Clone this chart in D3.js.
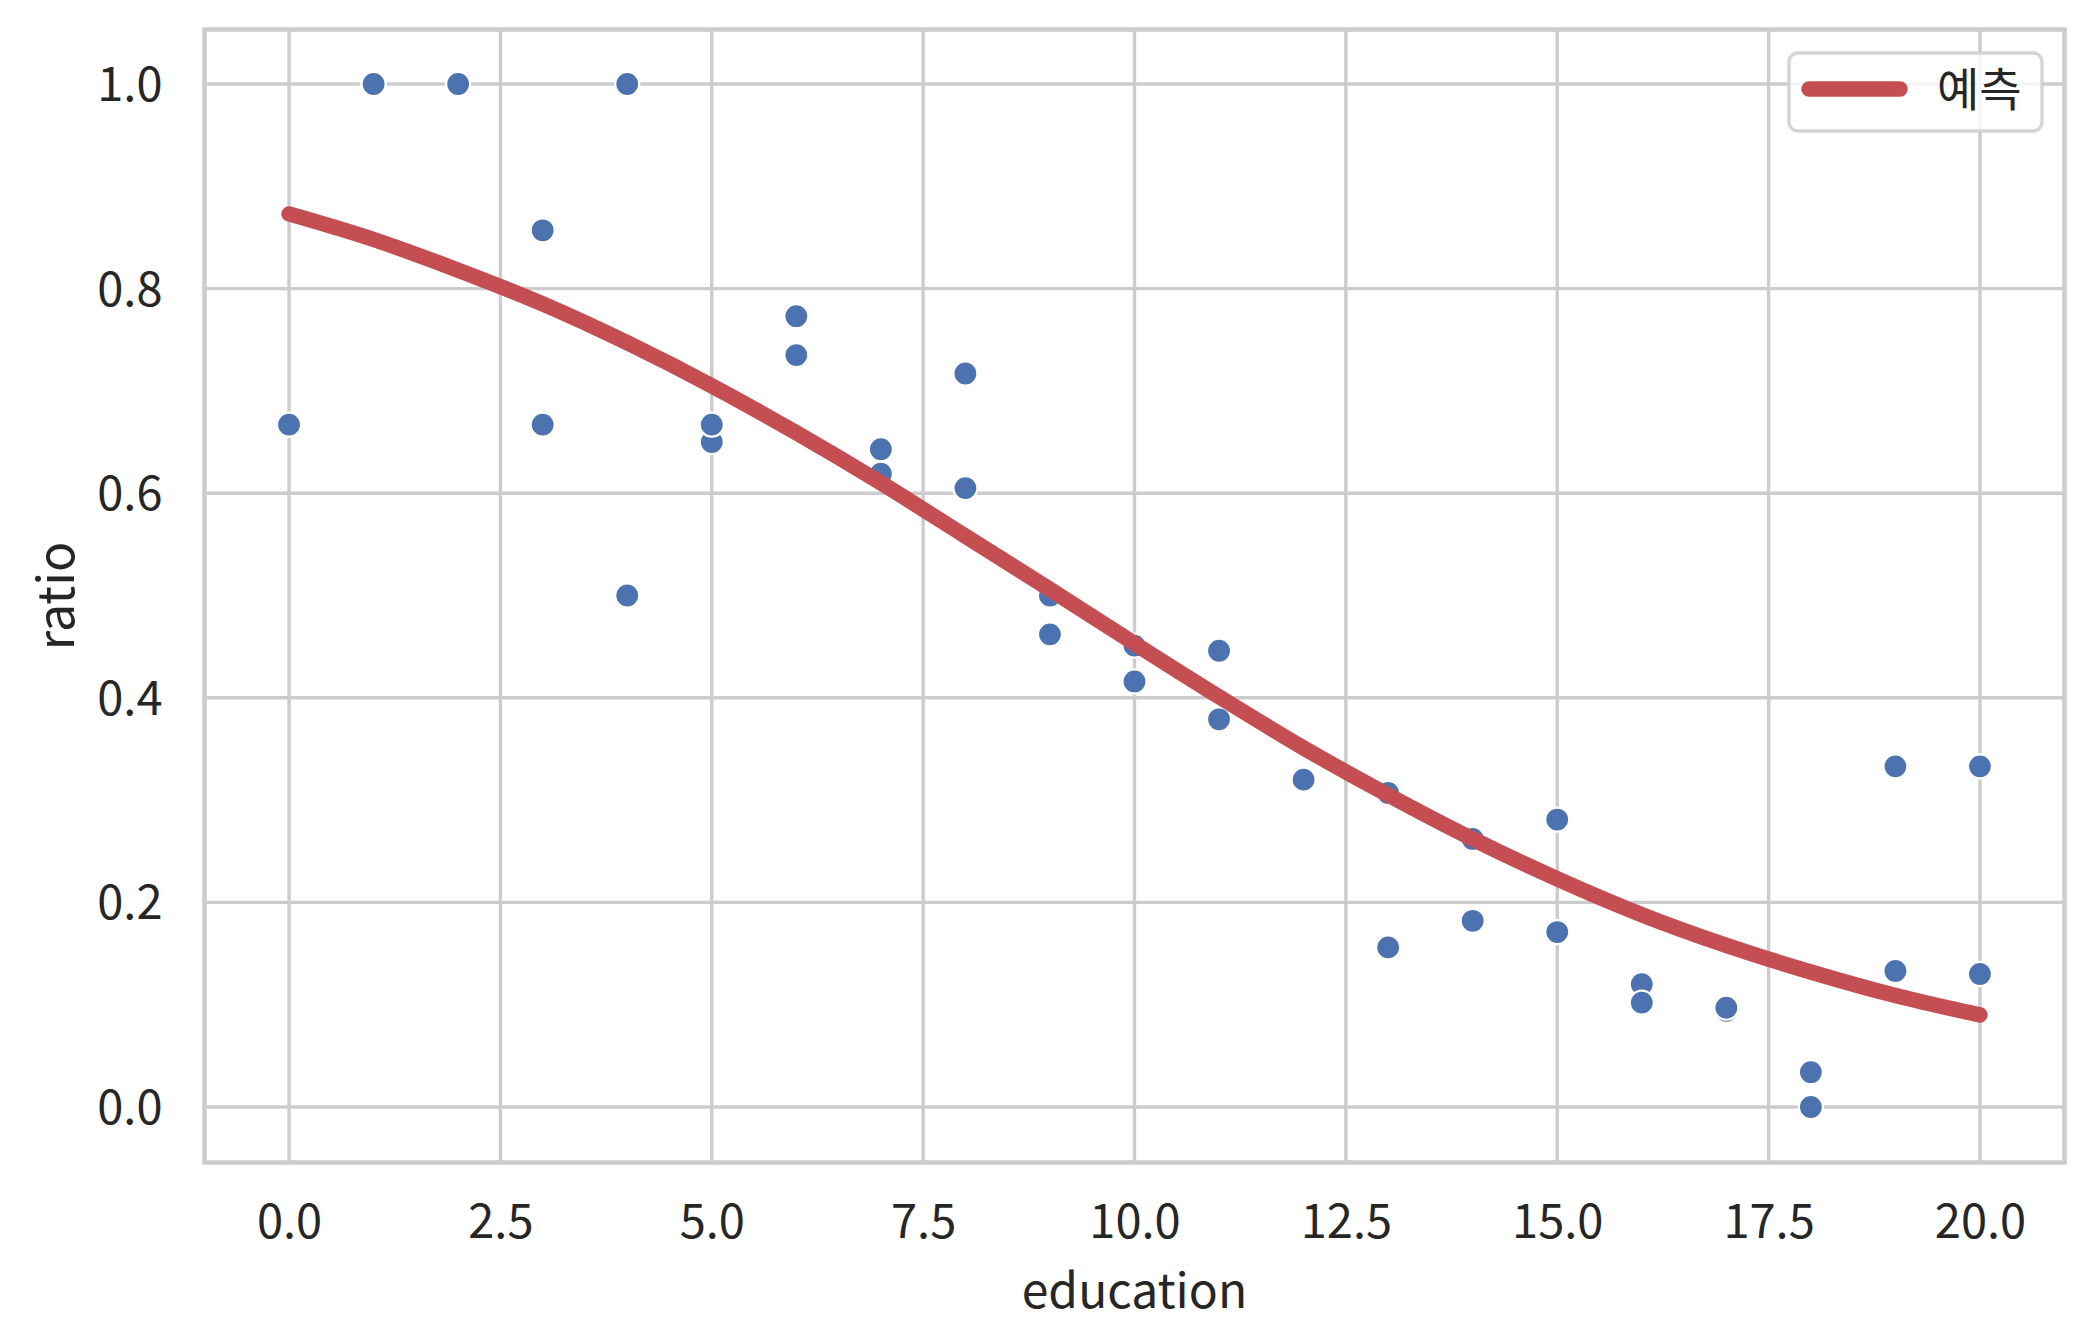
<!DOCTYPE html>
<html>
<head>
<meta charset="utf-8">
<script src="https://cdn.jsdelivr.net/npm/d3@7"></script>
<style>
  html, body { margin: 0; padding: 0; background: #fff; }
  svg { display: block; }
  text { font-family: "Noto Sans CJK KR", "Noto Sans", sans-serif; fill: #262626; }
</style>
</head>
<body>
<script>
// ---------- data ----------
const education = [0,1,2,3,4,5,6,7,8,9,10,11,12,13,14,15,16,17,18,19,20];
const ratioMale   = [0.667,1.0,1.0,0.667,0.5,0.65,0.735,0.643,0.605,0.5,0.416,0.379,0.319,0.307,0.262,0.281,0.12,0.094,0.034,0.133,0.130];
const ratioFemale = [0.667,1.0,null,0.857,1.0,0.667,0.773,0.619,0.717,0.462,0.451,0.446,0.320,0.156,0.182,0.171,0.102,0.097,0.0,0.333,0.333];
const predicted   = [0.873,0.848,0.818,0.785,0.747,0.705,0.659,0.610,0.558,0.506,0.453,0.401,0.351,0.305,0.262,0.223,0.188,0.158,0.132,0.109,0.090];
const xTicks = [0,2.5,5,7.5,10,12.5,15,17.5,20];
const yTicks = [0,0.2,0.4,0.6,0.8,1.0];
const legendLabel = "예측";
const xLabel = "education";
const yLabel = "ratio";

// ---------- layout ----------
const W = 2093, H = 1340;
const L = 204.5, R = 2064.5, T = 29.5, B = 1162.5;
const C = { grid: "#cccccc", blue: "#4c72b0", red: "#c44e52", text: "#262626" };

const svg = d3.select("body").append("svg").attr("width", W).attr("height", H);

const x = d3.scaleLinear().domain([-1, 21]).range([L, R]);
const y = d3.scaleLinear().domain([0, 1]).range([1107, 84]);

// grid
const g = svg.append("g");
g.selectAll(".vg").data(xTicks).enter().append("line")
  .attr("x1", d => x(d)).attr("x2", d => x(d)).attr("y1", T).attr("y2", B)
  .attr("stroke", C.grid).attr("stroke-width", 3.4);
g.selectAll(".hg").data(yTicks).enter().append("line")
  .attr("y1", d => y(d)).attr("y2", d => y(d)).attr("x1", L).attr("x2", R)
  .attr("stroke", C.grid).attr("stroke-width", 3.4);

// tick labels via axes (no domain / tick lines)
const xAxis = d3.axisBottom(x).tickValues(xTicks).tickFormat(d3.format(".1f")).tickSize(0).tickPadding(0);
const xa = svg.append("g").attr("transform", `translate(0,${B})`).call(xAxis);
xa.select(".domain").remove();
xa.selectAll("text").attr("dy", null).attr("y", 75).attr("font-size", 47)
  .attr("font-family", "'Noto Sans CJK KR', sans-serif").attr("fill", C.text);

const yAxis = d3.axisLeft(y).tickValues(yTicks).tickFormat(d3.format(".1f")).tickSize(0).tickPadding(0);
const ya = svg.append("g").attr("transform", `translate(${L},0)`).call(yAxis);
ya.select(".domain").remove();
ya.selectAll("text").attr("x", -42).attr("dy", "0.35em").attr("font-size", 47)
  .attr("font-family", "'Noto Sans CJK KR', sans-serif").attr("fill", C.text);

// axis labels
svg.append("text").attr("x", (L + R) / 2).attr("y", 1308).attr("text-anchor", "middle")
  .attr("font-size", 48).text(xLabel);
svg.append("text").attr("transform", `translate(74,${(T + B) / 2}) rotate(-90)`)
  .attr("text-anchor", "middle").attr("font-size", 50).text(yLabel);

// scatter points
const pts = [];
education.forEach((e, i) => {
  if (ratioMale[i] != null) pts.push([e, ratioMale[i]]);
  if (ratioFemale[i] != null) pts.push([e, ratioFemale[i]]);
});
svg.append("g").selectAll("circle").data(pts).enter().append("circle")
  .attr("cx", d => x(d[0])).attr("cy", d => y(d[1])).attr("r", 12)
  .attr("fill", C.blue).attr("stroke", "#fff").attr("stroke-width", 2.2);

// prediction curve
const line = d3.line().x((d, i) => x(education[i])).y(d => y(d)).curve(d3.curveMonotoneX);
svg.append("path").datum(predicted).attr("d", line)
  .attr("fill", "none").attr("stroke", C.red).attr("stroke-width", 15.5)
  .attr("stroke-linecap", "round").attr("stroke-linejoin", "round");

// frame
svg.append("rect").attr("x", L).attr("y", T).attr("width", R - L).attr("height", B - T)
  .attr("fill", "none").attr("stroke", C.grid).attr("stroke-width", 4.5);

// legend
const lg = svg.append("g");
lg.append("rect").attr("x", 1789).attr("y", 53).attr("width", 253).attr("height", 78)
  .attr("rx", 9).attr("ry", 9)
  .attr("fill", "rgba(255,255,255,0.8)").attr("stroke", "rgba(204,204,204,0.8)").attr("stroke-width", 3.5);
lg.append("line").attr("x1", 1809).attr("x2", 1900).attr("y1", 89).attr("y2", 89)
  .attr("stroke", C.red).attr("stroke-width", 15.5).attr("stroke-linecap", "round");
lg.append("text").attr("x", 1937).attr("y", 89).attr("dy", "0.36em")
  .attr("font-size", 46).text(legendLabel);
</script>
</body>
</html>
